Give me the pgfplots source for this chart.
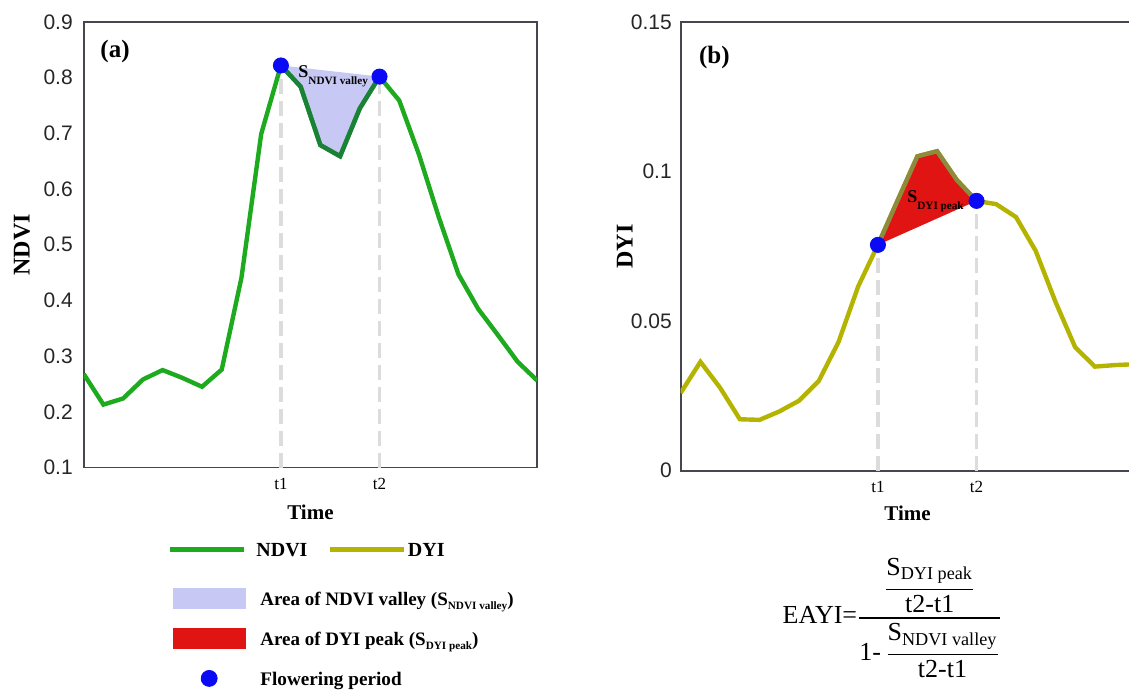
\documentclass[border=0pt]{standalone}
\usepackage{fontspec}
\setmainfont{Liberation Serif}
\newfontfamily\arialfont{Liberation Sans}
\usepackage{amsmath}
\usepackage{pgfplots}
\pgfplotsset{compat=1.18}

\definecolor{ndvigreen}{RGB}{30,170,30}
\definecolor{ndvidark}{RGB}{25,130,55}
\definecolor{dyiolive}{RGB}{180,180,0}
\definecolor{dyidark}{RGB}{140,140,60}
\definecolor{valleyblue}{RGB}{200,200,245}
\definecolor{peakred}{RGB}{225,20,20}
\definecolor{dotblue}{RGB}{10,10,245}
\definecolor{framegray}{RGB}{70,70,80}
\definecolor{dashgray}{RGB}{220,220,220}

% #1 text, #2 lowering, #3 font size
\newcommand{\sub}[3]{\raisebox{-#2}{\fontsize{#3}{#3}\selectfont #1}}

\pgfplotstableread{
x y
0 0.268
1 0.213
2 0.224
3 0.258
4 0.275
5 0.261
6 0.245
7 0.276
8 0.441
9 0.699
10 0.822
11 0.784
12 0.679
13 0.659
14 0.745
15 0.802
16 0.759
17 0.662
18 0.550
19 0.447
20 0.385
21 0.338
22 0.290
23 0.256
}\ndvitable

\pgfplotstableread{
x y
0 0.0260
1 0.0364
2 0.0277
3 0.0172
4 0.0170
5 0.0198
6 0.0234
7 0.0300
8 0.0430
9 0.0616
10 0.0755
11 0.0904
12 0.1051
13 0.1068
14 0.0972
15 0.0902
16 0.0891
17 0.0848
18 0.0735
19 0.0565
20 0.0413
21 0.0348
22 0.0353
23 0.0356
}\dyitable

\pgfplotsset{
  legline/.style={legend image code/.code={\path[draw=none,fill=none] (0pt,-10.5pt) -- (0pt,14pt);\draw[##1] (0pt,3.3pt) -- (37pt,3.3pt);}},
  legrect/.style={legend image code/.code={\path[draw=none,fill=none] (0pt,-6pt) -- (0pt,14pt);\fill[##1] (1.5pt,-1.7pt) rectangle (37.5pt,8.3pt);}},
  legdot/.style={legend image code/.code={\path[draw=none,fill=none] (0pt,-6pt) -- (0pt,14pt);\fill[##1] (19.5pt,3.3pt) circle (4pt);}},
  panel/.style={
    scale only axis, width=226.8pt,
    xmin=0, xmax=23,
    axis line style={framegray, line width=0.9pt},
    major tick length=0pt,
    xtick={10,15}, xticklabels={t1,t2},
    xticklabel style={font=\fontsize{8.5}{10}\selectfont, inner sep=0pt, anchor=north},
    xticklabel shift=5pt,
    yticklabel style={font=\arialfont\fontsize{10.5}{12}\selectfont, inner sep=0pt, text=black!85},
    /pgf/number format/assume math mode=true,
    /pgf/number format/fixed,
    /pgf/number format/precision=2,
    xlabel={Time},
    xlabel style={font=\bfseries\fontsize{10.5}{12}\selectfont, anchor=center},
    ylabel style={font=\bfseries\fontsize{12}{14}\selectfont, anchor=center},
  },
}

\begin{document}
\begin{tikzpicture}
% ---------------- (a) NDVI ----------------
\begin{axis}[panel,
  at={(41.85pt,-233.75pt)}, anchor=south west, height=222.75pt,
  ymin=0.1, ymax=0.9, ytick={0.1,0.2,0.3,0.4,0.5,0.6,0.7,0.8,0.9},
  yticklabel shift=5.3pt,
  ylabel={NDVI},
  ylabel style={at={(axis description cs:-0.136,0.5)}},
  xlabel style={at={(axis description cs:0.5,-0.0999)}},
  legend columns=2,
  legend cell align=left,
  legend style={draw=none, fill=none, inner sep=0pt, outer sep=0pt,
    at={(axis description cs:0.1858,-0.1358)}, anchor=north west,
    row sep=0pt,
    cells={anchor=base west},
    nodes={inner sep=0pt},
    /tikz/every odd column/.append style={column sep=5pt},
    /tikz/every even column/.append style={column sep=10pt}},
]
\addplot[dashgray, line width=1.6pt, dash pattern=on 7.5pt off 3.5pt, forget plot] coordinates {(10,0.1) (10,0.822)};
\addplot[dashgray, line width=1.6pt, dash pattern=on 7.5pt off 3.5pt, forget plot] coordinates {(15,0.1) (15,0.802)};
\addplot[fill=valleyblue, draw=none, forget plot] table[restrict x to domain=10:15] {\ndvitable} --cycle;
\addplot[ndvigreen, line width=2.2pt, forget plot] table {\ndvitable};
\addplot[ndvidark, line width=2.2pt, forget plot] table[restrict x to domain=10:15] {\ndvitable};
\addplot[only marks, mark=*, mark size=3.8pt, dotblue, forget plot] coordinates {(10,0.822) (15,0.802)};
\node[anchor=west, inner sep=0pt, font=\bfseries\fontsize{12.5}{14}\selectfont] at (rel axis cs:0.036,0.933) {(a)};
\node[anchor=base west, inner sep=0pt, font=\bfseries] at (axis cs:10.87,0.801) {\fontsize{9}{10}\selectfont S\sub{NDVI valley}{3.5pt}{5.6}};
% legend
\addlegendimage{legline, ndvigreen, line width=2.2pt}
\addlegendentry{\rule[-10.5pt]{0pt}{24.5pt}\bfseries\fontsize{10}{12}\selectfont NDVI}
\addlegendimage{legline, dyiolive, line width=2.2pt}
\addlegendentry{\hspace*{-4pt}\bfseries\fontsize{10}{12}\selectfont DYI}
\addlegendimage{legrect, valleyblue}
\addlegendentry{\rule[-6pt]{0pt}{20pt}\rlap{\hspace*{1.5pt}\bfseries\fontsize{9.5}{11}\selectfont Area of NDVI valley (S\sub{NDVI valley}{2pt}{5.6})}}
\addlegendimage{empty legend}
\addlegendentry{}
\addlegendimage{legrect, peakred}
\addlegendentry{\rule[-6pt]{0pt}{20pt}\rlap{\hspace*{1.5pt}\bfseries\fontsize{9.5}{11}\selectfont Area of DYI peak (S\sub{DYI peak}{2pt}{5.6})}}
\addlegendimage{empty legend}
\addlegendentry{}
\addlegendimage{legdot, dotblue}
\addlegendentry{\rule[-6pt]{0pt}{20pt}\rlap{\hspace*{1.5pt}\bfseries\fontsize{9.6}{11}\selectfont Flowering period}}
\end{axis}

% ---------------- (b) DYI ----------------
\begin{axis}[panel,
  at={(340.35pt,-235.35pt)}, anchor=south west, height=224.35pt,
  ymin=0, ymax=0.15, ytick={0,0.05,0.1,0.15},
  yticklabel shift=4.3pt,
  ylabel={DYI},
  ylabel style={at={(axis description cs:-0.123,0.5)}},
  xlabel style={at={(axis description cs:0.5,-0.0943)}},
]
\addplot[dashgray, line width=1.6pt, dash pattern=on 7.5pt off 3.5pt] coordinates {(10,0) (10,0.0755)};
\addplot[dashgray, line width=1.6pt, dash pattern=on 7.5pt off 3.5pt] coordinates {(15,0) (15,0.0902)};
\addplot[dyiolive, line width=2.2pt] table {\dyitable};
\addplot[fill=peakred, draw=none] table[restrict x to domain=10:15] {\dyitable} --cycle;
\addplot[dyidark, line width=2.2pt] table[restrict x to domain=10:15] {\dyitable};
\addplot[only marks, mark=*, mark size=3.8pt, dotblue] coordinates {(10,0.0755) (15,0.0902)};
\node[anchor=west, inner sep=0pt, font=\bfseries\fontsize{12.5}{14}\selectfont] at (rel axis cs:0.0397,0.922) {(b)};
\node[anchor=base west, inner sep=0pt, font=\bfseries] at (axis cs:11.47,0.0895) {\fontsize{9}{10}\selectfont S\sub{DYI peak}{3.5pt}{5.6}};
\end{axis}

% ---------------- formula ----------------
\node[anchor=center, inner sep=0pt] at (446.25pt,-309pt)
  {\fontsize{13}{15}\selectfont
   $\text{EAYI=}\genfrac{}{}{0.8pt}{0}{\genfrac{}{}{0.8pt}{0}{\text{S}_{\text{DYI peak}}}{\text{t2-t1}}}{\text{1-}\,\genfrac{}{}{0.8pt}{0}{\text{S}_{\text{NDVI valley}}}{\text{t2-t1}}}$};

\pgfresetboundingbox
\useasboundingbox (0pt,0pt) rectangle (564.5pt,-345.5pt);
\end{tikzpicture}
\end{document}
